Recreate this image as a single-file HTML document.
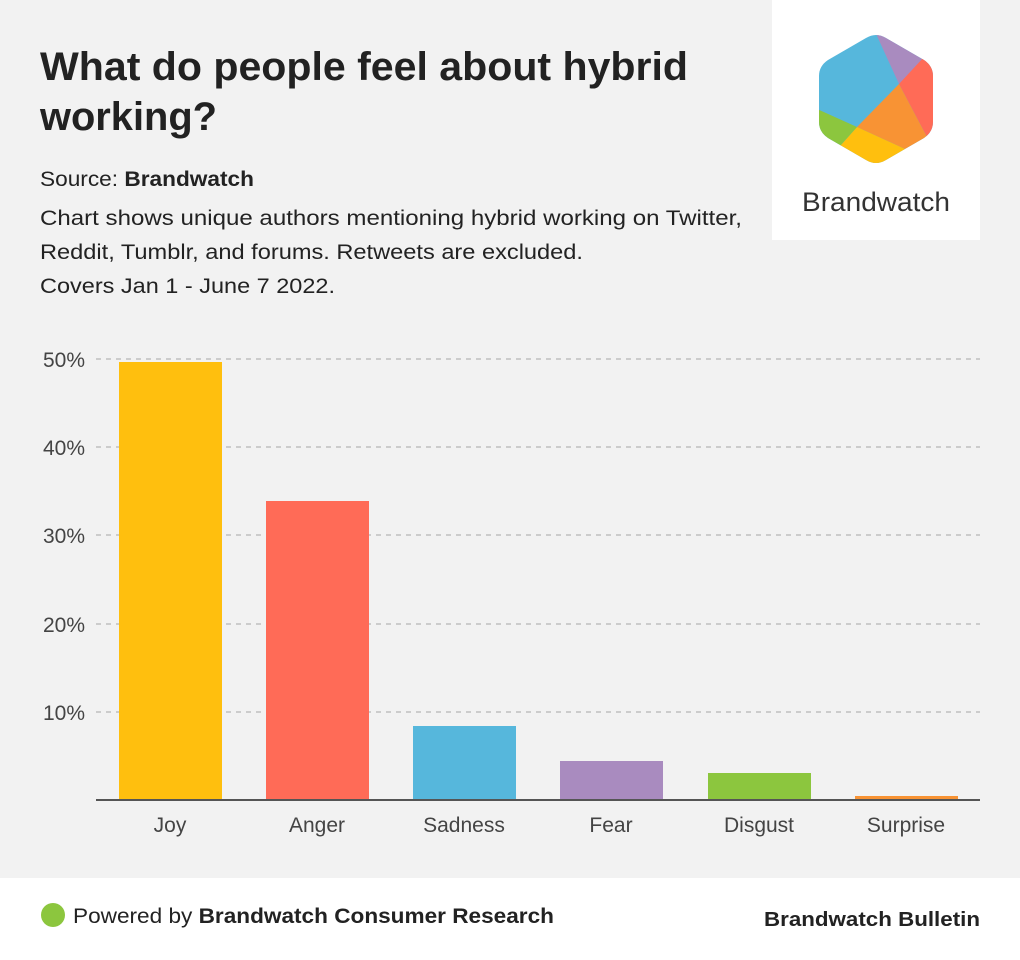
<!DOCTYPE html>
<html><head><meta charset="utf-8"><style>
html,body{margin:0;padding:0;background:#f2f2f2;}
svg{display:block;font-family:"Liberation Sans",Arial,sans-serif;}
</style></head><body>
<svg width="1020" height="960" viewBox="0 0 1020 960">
<rect width="1020" height="960" fill="#f2f2f2"/>
<text x="40" y="80" font-size="40" font-weight="bold" fill="#222" textLength="648" lengthAdjust="spacingAndGlyphs">What do people feel about hybrid</text>
<text x="40" y="130" font-size="40" font-weight="bold" fill="#222" textLength="177" lengthAdjust="spacingAndGlyphs">working?</text>
<text x="40" y="186" font-size="21" fill="#222" textLength="214" lengthAdjust="spacingAndGlyphs">Source: <tspan font-weight="bold">Brandwatch</tspan></text>
<text x="40" y="225" font-size="21" fill="#222" textLength="702" lengthAdjust="spacingAndGlyphs">Chart shows unique authors mentioning hybrid working on Twitter,</text>
<text x="40" y="259" font-size="21" fill="#222" textLength="543" lengthAdjust="spacingAndGlyphs">Reddit, Tumblr, and forums. Retweets are excluded.</text>
<text x="40" y="293" font-size="21" fill="#222" textLength="295" lengthAdjust="spacingAndGlyphs">Covers Jan 1 - June 7 2022.</text>
<rect x="772" y="0" width="208" height="240" fill="#fff"/>
<defs><clipPath id="hx"><path d="M866,38 Q876,32 886,38 L924,60 Q933,66 933,76 L933,122 Q933,132 924,138 L886,160 Q876,166 866,160 L828,138 Q819,132 819,122 L819,76 Q819,66 828,60 Z"/></clipPath></defs>
<g clip-path="url(#hx)">
<rect x="810" y="25" width="130" height="150" fill="#56b7dc"/>
<polygon points="872,25 940,25 940,50 899,84" fill="#a98bbf"/>
<polygon points="899,84 924,57 945,45 945,140 927,137" fill="#ff6b57"/>
<polygon points="899,84 927,137 905,149 857,127" fill="#f89334"/>
<polygon points="857,127 905,149 910,175 830,175 840,146" fill="#ffbf0e"/>
<polygon points="857,127 840,146 810,150 810,109 817,109" fill="#8cc63e"/>
</g>
<text x="802" y="211" font-size="27" fill="#333" textLength="148" lengthAdjust="spacingAndGlyphs">Brandwatch</text>
<g stroke="#ccc" stroke-width="2" stroke-dasharray="5,5">
<line x1="96" y1="359" x2="980" y2="359"/><line x1="96" y1="447" x2="980" y2="447"/>
<line x1="96" y1="535" x2="980" y2="535"/><line x1="96" y1="624" x2="980" y2="624"/>
<line x1="96" y1="712" x2="980" y2="712"/>
</g>
<g font-size="21" fill="#444" text-anchor="end">
<text x="85" y="367">50%</text><text x="85" y="455">40%</text><text x="85" y="543">30%</text>
<text x="85" y="632">20%</text><text x="85" y="720">10%</text>
</g>
<rect x="119" y="362" width="103" height="438" fill="#ffbf0e"/>
<rect x="266" y="501" width="103" height="299" fill="#ff6b57"/>
<rect x="413" y="726" width="103" height="74" fill="#56b7dc"/>
<rect x="560" y="761" width="103" height="39" fill="#a98bbf"/>
<rect x="708" y="773" width="103" height="27" fill="#8cc63e"/>
<rect x="855" y="796" width="103" height="4" fill="#f89334"/>
<line x1="96" y1="800" x2="980" y2="800" stroke="#555" stroke-width="2"/>
<g font-size="21" fill="#444" text-anchor="middle">
<text x="170" y="832">Joy</text><text x="317" y="832">Anger</text><text x="464" y="832">Sadness</text>
<text x="611" y="832">Fear</text><text x="759" y="832">Disgust</text><text x="906" y="832">Surprise</text>
</g>
<rect x="0" y="878" width="1020" height="82" fill="#fff"/>
<circle cx="53" cy="915" r="12" fill="#8cc63e"/>
<text x="73" y="923" font-size="21" fill="#222" textLength="481" lengthAdjust="spacingAndGlyphs">Powered by <tspan font-weight="bold">Brandwatch Consumer Research</tspan></text>
<text x="764" y="926" font-size="20" fill="#222" font-weight="bold" textLength="216" lengthAdjust="spacingAndGlyphs">Brandwatch Bulletin</text>
</svg>
</body></html>
